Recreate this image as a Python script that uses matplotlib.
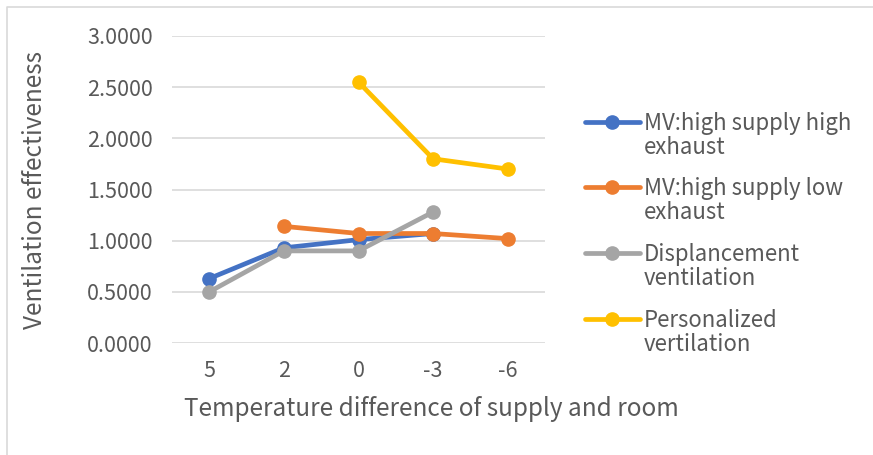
import matplotlib
matplotlib.use("Agg")
import matplotlib.pyplot as plt
from matplotlib.lines import Line2D
import numpy as np

plt.rcParams['font.family'] = ['Noto Sans CJK SC', 'DejaVu Sans']
plt.rcParams['font.weight'] = 'light'

categories = ["5", "2", "0", "-3", "-6"]
mv_high_high = [0.63, 0.93, 1.01, 1.07, None]
mv_high_low = [None, 1.14, 1.07, 1.07, 1.02]
displacement = [0.50, 0.90, 0.90, 1.28, None]
personalized = [None, None, 2.55, 1.80, 1.70]

series_names = ["MV:high supply high\nexhaust", "MV:high supply low\nexhaust",
                "Displancement\nventilation", "Personalized\nvertilation"]
series_values = [mv_high_high, mv_high_low, displacement, personalized]
colors = ["#4472C4", "#ED7D31", "#A5A5A5", "#FFC000"]

yticks = [0.0, 0.5, 1.0, 1.5, 2.0, 2.5, 3.0]
txt = "#595959"

fig = plt.figure(figsize=(8.73, 4.55), dpi=100)
ax = fig.add_axes([172/873, 1-343/455, (545-172)/873, (343-36)/455])

x = np.arange(len(categories))
for vals, c in zip(series_values, colors):
    v = np.array([np.nan if a is None else a for a in vals], dtype=float)
    ax.plot(x, v, color=c, lw=3.4, marker='o', ms=9.5, solid_capstyle='round',
            solid_joinstyle='round', zorder=3)

ax.set_xlim(-0.5, len(categories) - 0.5)
ax.set_ylim(0, 3.0)
ax.set_yticks(yticks)
ax.set_yticklabels([f"{t:.4f}" for t in yticks])
ax.set_xticks(x)
ax.set_xticklabels(categories)
ax.yaxis.grid(True, color="#D9D9D9", lw=1.2, zorder=0)
ax.set_axisbelow(True)
for s in ax.spines.values():
    s.set_visible(False)
ax.tick_params(axis='both', length=0, labelsize=15.5, labelcolor=txt)
ax.tick_params(axis='y', pad=14)
ax.tick_params(axis='x', pad=12)

fig.text(35/873, 1-190/455, "Ventilation effectiveness", rotation=90,
         ha='center', va='center', fontsize=17.5, color=txt)
fig.text(431/873, 1-409/455, "Temperature difference of supply and room",
         ha='center', va='center', fontsize=17.5, color=txt)

# legend
ys = [122, 187, 253, 319]
for yy, name, c in zip(ys, series_names, colors):
    fy = 1 - yy/455
    fig.add_artist(Line2D([585/873, 640/873], [fy, fy], color=c, lw=3.4,
                          transform=fig.transFigure, solid_capstyle='round'))
    fig.add_artist(Line2D([612/873], [fy], color=c, marker='o', ms=9.5,
                          transform=fig.transFigure))
    fig.text(644/873, 1-(yy-10)/455, name, ha='left', va='top', fontsize=16,
             color=txt, linespacing=1.05)

# chart border
fig.add_artist(Line2D([7/873, 7/873, 1.0], [0, 1-7/455, 1-7/455], color="#D9D9D9",
                      lw=1.2, transform=fig.transFigure))

fig.savefig("out.png", dpi=100)
